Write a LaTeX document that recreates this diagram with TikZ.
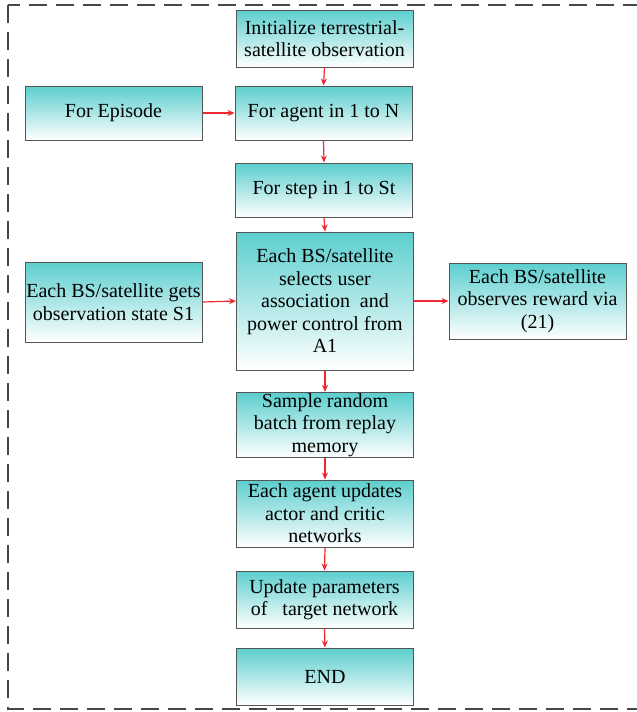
\documentclass[tikz,border=0pt]{standalone}
\usepackage{fontspec}
\setmainfont{Liberation Serif}
\usetikzlibrary{arrows.meta}

\definecolor{boxteal}{RGB}{92,206,206}
\definecolor{boxline}{RGB}{85,85,85}
\definecolor{flowred}{RGB}{238,40,48}

\tikzset{
  stage/.style={draw=boxline, line width=1pt, top color=boxteal, bottom color=white,
    minimum width=177pt, align=center, inner sep=1pt,
    font=\fontsize{20}{22.5}\selectfont},
  flow/.style={draw=flowred, line width=1.2pt, -{Stealth[length=7pt,width=6pt]}},
}

\begin{document}
\begin{tikzpicture}[x=1pt, y=-1pt]
% Parameters
\def\colL{113.5}
\def\colM{325}
\def\colR{537.5}

\useasboundingbox (0,0) rectangle (637,712);

% Dashed frame (runs past the right edge)
\draw[draw=black!72, line width=2pt, dash pattern=on 18pt off 9pt] (8,5) rectangle (660,709);

% Main column
\node[stage, minimum height=57pt] (init) at (324.5,38.5) {Initialize terrestrial-\\satellite observation};
\node[stage, minimum height=54pt] (agent) at (323.5,113) {For agent in 1 to N};
\node[stage, minimum height=54pt] (step) at (324,190) {For step in 1 to St};
\node[stage, minimum height=138pt] (select) at (\colM,301) {Each BS/satellite\\selects user\\association~ and\\power control from\\A1};
\node[stage, minimum height=64pt] (sample) at (\colM,425) {Sample random\\batch from replay\\memory};
\node[stage, minimum height=67pt] (update) at (\colM,513.5) {Each agent updates\\actor and critic\\networks};
\node[stage, minimum height=57pt] (target) at (324.5,599.5) {Update parameters\\of~~ target network};
\node[stage, minimum height=57pt] (finish) at (\colM,676.5) {END};

% Side boxes
\node[stage, minimum height=54pt] (episode) at (\colL,113) {For Episode};
\node[stage, minimum height=80pt] (obs) at (\colL,302) {Each BS/satellite gets\\observation state S1};
\node[stage, minimum height=76pt] (reward) at (\colR,301) {Each BS/satellite\\observes reward via\\(21)};

% Arrows down the column
\foreach \a/\b in {init/agent, agent/step, step/select, select/sample, sample/update, update/target, target/finish} {
    \draw[flow] (\a.south) -- (\b.north);
}

% Arrows across
\draw[flow] (episode.east) -- (agent.west);
\draw[flow] (obs.east) -- (select.west);
\draw[flow] (select.east) -- (reward.west);
\end{tikzpicture}
\end{document}
